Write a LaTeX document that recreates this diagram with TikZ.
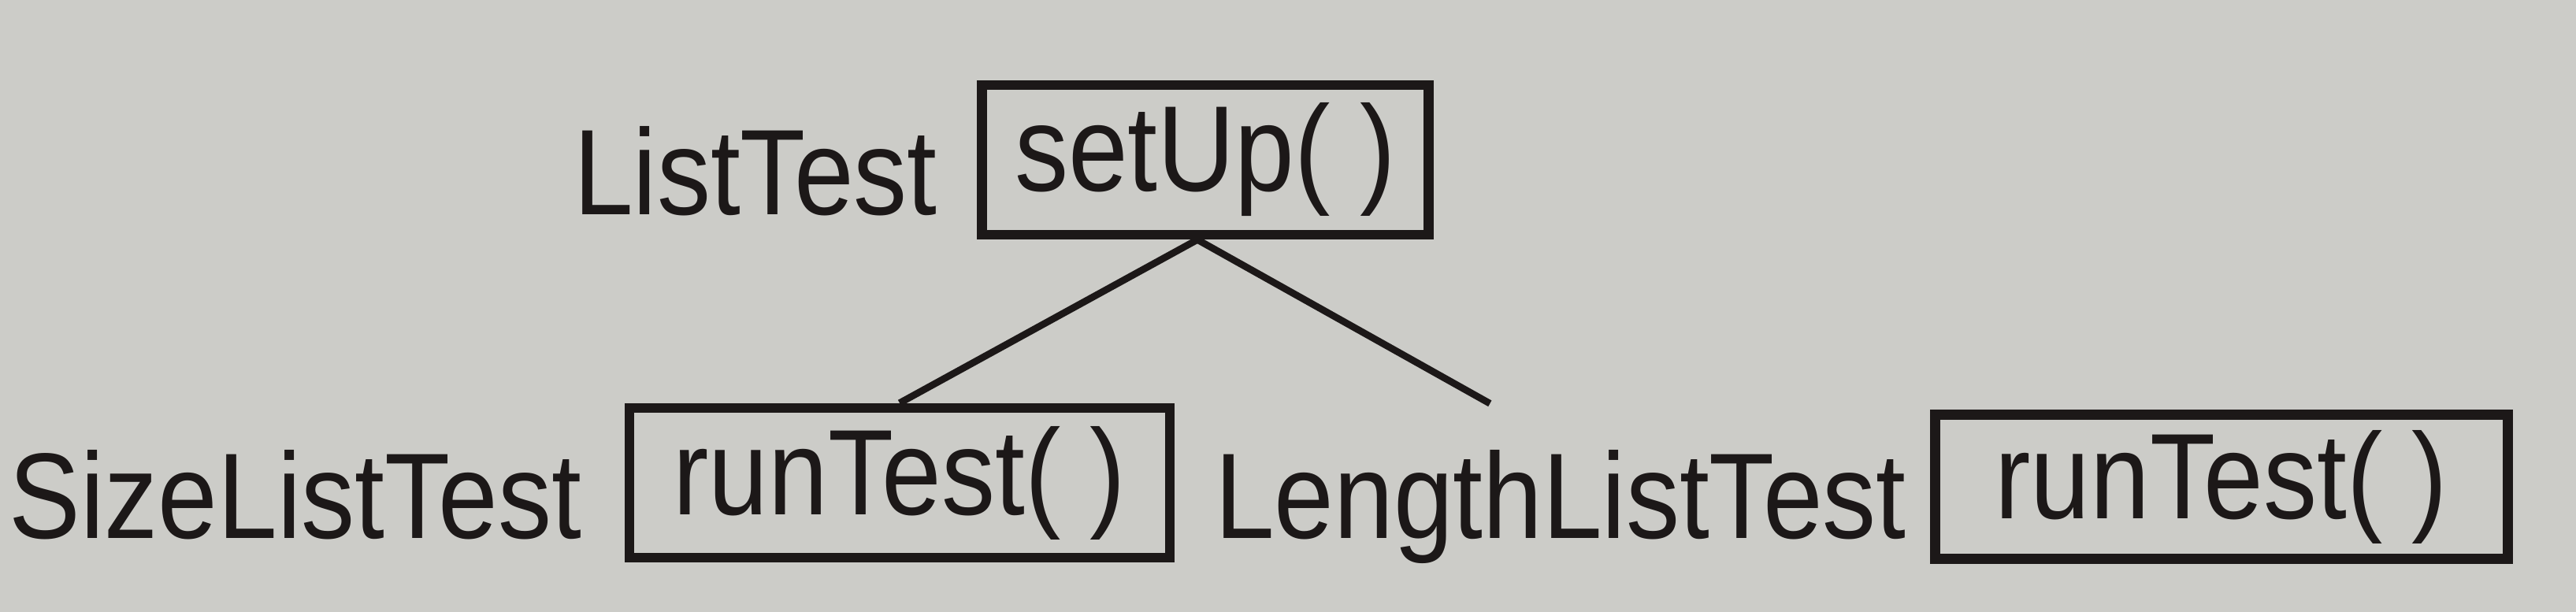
\documentclass[tikz,border=0pt]{standalone}
\usepackage{fontspec}
\newfontfamily\handfont[FakeStretch=0.88]{Liberation Sans}
\usetikzlibrary{positioning}
\definecolor{paper}{RGB}{204,204,200}
\definecolor{ink}{RGB}{28,24,24}
\newcommand{\handsize}{\handfont\fontsize{44}{50}\selectfont}

\begin{document}
\begin{tikzpicture}[
	methodbox/.style={draw=ink, line width=3.6pt, minimum height=1.9cm, inner sep=0pt, text=ink, font=\handsize},
	classlabel/.style={inner sep=0pt, text=ink, font=\handsize, text height=1.1cm, text depth=0pt, yshift=-1.5mm},
	link/.style={draw=ink, line width=2.5pt}
]
	% paper
	\fill[paper] (0,0) rectangle (32.7,-7.77);
	% base class
	\node[methodbox, minimum width=5.67cm] (setup) at (15.3,-2.03) {setUp( )};
	\node[classlabel, left=0.5cm of setup] (listtest) {ListTest};
	% subclasses
	\node[methodbox, minimum width=6.86cm] (runsize) at (11.42,-6.13) {runTest( )};
	\node[classlabel, left=0.54cm of runsize] (sizetest) {SizeListTest};
	\node[classlabel, right=0.5cm of runsize] (lengthtest) {LengthListTest};
	\node[methodbox, minimum width=7.27cm, minimum height=1.83cm] (runlength) at (28.2,-6.18) {runTest( )};
	\coordinate (lengthtop) at ([xshift=3.5cm, yshift=6mm]lengthtest.north west);
	% inheritance lines
	\draw[link] ([xshift=-1mm]setup.south) -- (runsize.north);
	\draw[link] ([xshift=-1mm]setup.south) -- (lengthtop);
\end{tikzpicture}
\end{document}
